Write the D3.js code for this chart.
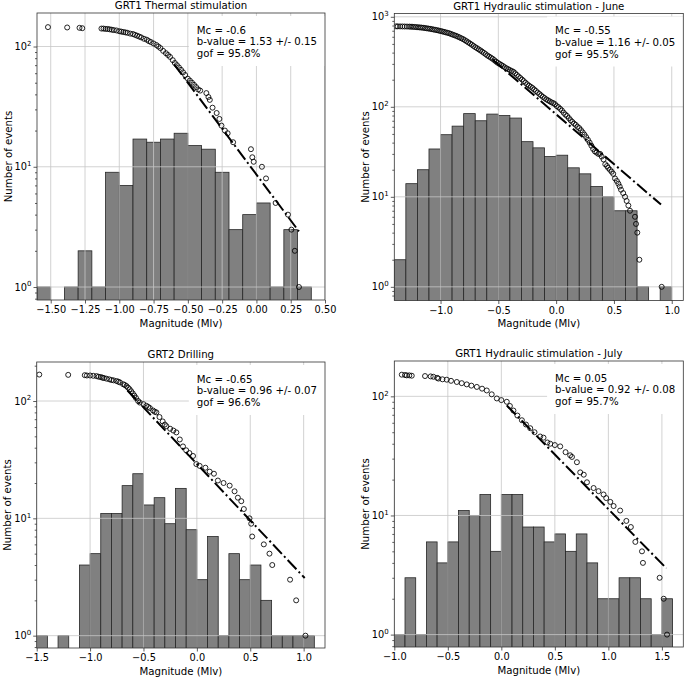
<!DOCTYPE html>
<html>
<head>
<meta charset="utf-8">
<script src="https://cdn.jsdelivr.net/npm/d3@7"></script>
<style>
  body { margin: 0; background: #fff; }
  text { font-family: "DejaVu Sans", sans-serif; fill: #000; }
</style>
</head>
<body>
<svg id="fig" width="685" height="678"></svg>
<script>
// ---- data ----
var titles = ["GRT1 Thermal stimulation", "GRT1 Hydraulic stimulation - June",
              "GRT2 Drilling", "GRT1 Hydraulic stimulation - July"];

var notes = [
  ["Mc = -0.6", "b-value = 1.53 +/- 0.15", "gof = 95.8%"],
  ["Mc = -0.55", "b-value = 1.16 +/- 0.05", "gof = 95.5%"],
  ["Mc = -0.65", "b-value = 0.96 +/- 0.07", "gof = 96.6%"],
  ["Mc = 0.05", "b-value = 0.92 +/- 0.08", "gof = 95.7%"]
];

// histogram: first bin edge (bin width 0.1) and counts per bin
var binStart = [-1.6, -1.4, -1.5, -1.0];
var counts1 = [1, 0, 1, 2, 1, 9, 7, 17, 16, 17, 19, 15, 14, 9, 3, 4, 5, 1, 3, 1];
var counts2 = [2, 14, 20, 34, 49, 61, 84, 70, 83, 80, 75, 41, 35, 28, 29, 21, 18, 13, 10, 7, 7, 1, 0, 1];
var counts3 = [1, 0, 1, 0, 4, 5, 11, 11, 19, 24, 13, 15, 9, 18, 8, 3, 7, 1, 5, 3, 4, 2, 1, 1, 1, 1];
var counts4 = [1, 3, 1, 6, 4, 6, 11, 10, 15, 5, 15, 15, 8, 8, 6, 7, 5, 7, 4, 2, 2, 3, 3, 2, 1, 2];

// cumulative number of events (open circles): magnitude / count
var cumMag1 = [-1.52, -1.38, -1.29, -1.27, -1.13, -1.115, -1.10, -1.085, -1.07, -1.055, -1.04, -1.02, -1.0,
  -0.985, -0.97, -0.955, -0.94, -0.92, -0.90, -0.885, -0.87, -0.855, -0.84, -0.82, -0.80, -0.785, -0.77,
  -0.75, -0.73, -0.715, -0.70, -0.68, -0.66, -0.645, -0.63, -0.61, -0.595, -0.58, -0.565, -0.55, -0.535,
  -0.52, -0.50, -0.485, -0.47, -0.455, -0.44, -0.425, -0.41, -0.365, -0.35, -0.34, -0.32, -0.29, -0.27, -0.255,
  -0.23, -0.21, -0.17, -0.04, -0.03, -0.02, 0.04, 0.07, 0.14, 0.23, 0.255, 0.28, 0.31];
var cumN1 = [145, 144, 143, 142, 141, 141, 140, 140, 139, 138, 137, 136, 134,
  133, 132, 131, 130, 128, 127, 125, 123, 121, 119, 116, 114, 111, 109,
  106, 103, 100, 97, 92, 88, 85, 82, 77, 73, 70, 67, 64, 61,
  58, 54, 52, 50, 48, 46, 44, 43, 41, 38, 36, 31, 28, 25, 22,
  20, 19, 16, 14, 12, 11, 10, 8, 5, 4, 3, 2, 1];

var cumMag2 = [-1.385, -1.37, -1.35, -1.33, -1.31, -1.29, -1.27, -1.255, -1.24, -1.225, -1.21, -1.195, -1.18,
  -1.165, -1.15, -1.135, -1.12, -1.105, -1.09, -1.075, -1.06, -1.045, -1.03, -1.015, -1.0, -0.985, -0.97,
  -0.955, -0.94, -0.925, -0.91, -0.895, -0.88, -0.865, -0.85, -0.835, -0.82, -0.805, -0.79, -0.775, -0.76,
  -0.745, -0.73, -0.715, -0.70, -0.685, -0.67, -0.655, -0.64, -0.625, -0.61, -0.595, -0.58, -0.565, -0.55,
  -0.535, -0.52, -0.505, -0.49, -0.475, -0.46, -0.445, -0.43, -0.415, -0.40, -0.385, -0.37, -0.355, -0.34,
  -0.325, -0.31, -0.295, -0.28, -0.265, -0.25, -0.235, -0.22, -0.205, -0.19, -0.175, -0.16, -0.145, -0.13,
  -0.115, -0.10, -0.085, -0.07, -0.055, -0.04, -0.025, -0.01, 0.005, 0.02, 0.035, 0.05, 0.065, 0.08, 0.095,
  0.11, 0.125, 0.14, 0.155, 0.17, 0.185, 0.20, 0.215, 0.23, 0.245, 0.26, 0.275, 0.29, 0.305, 0.32, 0.335,
  0.35, 0.365, 0.38, 0.394, 0.41, 0.425, 0.44, 0.45, 0.465, 0.48, 0.494, 0.509, 0.525, 0.538, 0.55, 0.561,
  0.58, 0.596, 0.61, 0.625, 0.639, 0.682, 0.691, 0.702, 0.72, 0.913];
var cumN2 = [783, 783, 782, 781, 780, 779, 778, 776, 774, 771, 768, 765, 762,
  759, 755, 750, 745, 740, 735, 729, 722, 716, 710, 703, 695, 688, 680,
  672, 664, 656, 645, 634, 624, 614, 602, 590, 577, 565, 550, 535, 520,
  505, 490, 475, 460, 448, 435, 423, 410, 398, 385, 372, 362, 352, 342,
  330, 318, 308, 300, 292, 284, 275, 268, 262, 256, 250, 245, 236, 226,
  217, 209, 201, 193, 185, 178, 172, 167, 162, 156, 150, 144, 139, 134,
  129, 125, 121, 118, 115, 112, 110, 107, 102, 99, 95, 91, 86, 82, 79,
  75, 71, 68, 65, 63, 60, 58, 55, 52, 49, 46, 43, 40, 37, 34, 32,
  31, 30, 30, 28, 26, 23, 22, 21, 20, 19, 18, 16, 15, 14, 13, 12,
  11, 10, 9, 8, 7, 6, 5, 4, 2, 1];

var cumMag3 = [-1.476, -1.205, -1.05, -1.03, -1.0, -0.97, -0.94, -0.92, -0.90, -0.885, -0.87, -0.846, -0.82,
  -0.80, -0.78, -0.752, -0.735, -0.72, -0.69, -0.675, -0.659, -0.645, -0.63, -0.615, -0.60, -0.585, -0.57,
  -0.55, -0.535, -0.50, -0.472, -0.455, -0.44, -0.41, -0.395, -0.379, -0.35, -0.32, -0.30, -0.285,
  -0.25, -0.22, -0.192, -0.16, -0.13, -0.10, -0.07, -0.036, -0.005, 0.026, 0.08, 0.12, 0.16, 0.197, 0.25, 0.307,
  0.353, 0.384, 0.416, 0.44, 0.493, 0.509, 0.518, 0.627, 0.68, 0.706, 0.873, 0.93, 1.017];
var cumN3 = [168, 167, 166, 165, 165, 164, 163, 161, 160, 158, 157, 155, 153,
  151, 150, 148, 146, 144, 139, 137, 134, 130, 126, 121, 116, 111, 106,
  100, 97, 94, 91, 89, 87, 83, 81, 80, 73, 67, 63, 61,
  58, 56, 54, 47, 41, 38, 36, 34, 29, 28, 27, 25, 24, 21, 20, 19,
  17, 15, 14, 12, 10, 9, 7, 6, 5, 4, 3, 2, 1];

var cumMag4 = [-0.93, -0.90, -0.884, -0.86, -0.837, -0.713, -0.66, -0.635, -0.60, -0.588, -0.55, -0.51, -0.47,
  -0.416, -0.37, -0.323, -0.28, -0.229, -0.18, -0.136, -0.09, -0.042, 0.0, 0.051, 0.08, 0.113, 0.15, 0.192,
  0.23, 0.27, 0.31, 0.363, 0.394, 0.43, 0.457, 0.50, 0.55, 0.60, 0.643, 0.66, 0.706, 0.737, 0.77, 0.80, 0.862,
  0.908, 0.955, 0.98, 1.018, 1.049, 1.11, 1.168, 1.21, 1.252, 1.314, 1.323, 1.479, 1.517, 1.548];
var cumN4 = [152, 151, 150, 150, 149, 148, 147, 146, 143, 141, 139, 138, 135,
  132, 129, 126, 123, 120, 116, 112, 104, 96, 93, 90, 83, 76, 69, 63,
  58, 54, 50, 46, 45, 41, 40, 39, 38, 34, 32, 31, 28, 23, 22, 19, 17,
  16, 15, 14, 13, 12, 11, 9, 8, 6, 5, 4, 3, 2, 1];

// Gutenberg-Richter fit: end points [magnitude, count]
var fit1 = [[-0.6, 71], [0.31, 2.9]];
var fit2 = [[-0.55, 335], [0.907, 8.2]];
var fit3 = [[-0.65, 123], [1.01, 3.1]];
var fit4 = [[0.05, 84], [1.542, 3.6]];

// axis tick values
var xTicks1 = [-1.5, -1.25, -1.0, -0.75, -0.5, -0.25, 0.0, 0.25, 0.5];
var xTicks2 = [-1.0, -0.5, 0.0, 0.5, 1.0];
var xTicks3 = [-1.5, -1.0, -0.5, 0.0, 0.5, 1.0];
var xTicks4 = [-1.0, -0.5, 0.0, 0.5, 1.0, 1.5];

// ---- panel options ----
var panels = [
  { title: titles[0], note: notes[0], start: binStart[0], counts: counts1, mag: cumMag1, n: cumN1, fit: fit1,
    xTicks: xTicks1, xFmt: 2, xDomain: [-1.6, 0.5], yDomain: [0.78, 190], box: [37, 13, 325, 300] },
  { title: titles[1], note: notes[1], start: binStart[1], counts: counts2, mag: cumMag2, n: cumN2, fit: fit2,
    xTicks: xTicks2, xFmt: 1, xDomain: [-1.4, 1.1], yDomain: [0.705, 1088], box: [394.3, 13.5, 683.3, 300.5] },
  { title: titles[2], note: notes[2], start: binStart[2], counts: counts3, mag: cumMag3, n: cumN3, fit: fit3,
    xTicks: xTicks3, xFmt: 1, xDomain: [-1.5, 1.2], yDomain: [0.785, 215], box: [36.7, 362, 325, 648] },
  { title: titles[3], note: notes[3], start: binStart[3], counts: counts4, mag: cumMag4, n: cumN4, fit: fit4,
    xTicks: xTicks4, xFmt: 1, xDomain: [-1.0, 1.7], yDomain: [0.787, 198], box: [394.3, 361, 683.3, 647] }
];

var svg = d3.select("#fig");
var fmtMinus = function (v, k) { return d3.format("." + k + "f")(v).replace("-", "\u2212"); };

panels.forEach(function (p, idx) {
  var x0 = p.box[0], y0 = p.box[1], x1 = p.box[2], y1 = p.box[3];
  var x = d3.scaleLinear().domain(p.xDomain).range([x0, x1]);
  var y = d3.scaleLog().domain(p.yDomain).range([y1, y0]);

  var g = svg.append("g");
  g.append("clipPath").attr("id", "clip" + idx)
    .append("rect").attr("x", x0).attr("y", y0).attr("width", x1 - x0).attr("height", y1 - y0);
  var plot = g.append("g").attr("clip-path", "url(#clip" + idx + ")");

  // histogram bars
  var bins = p.counts.map(function (c, i) { return { lo: p.start + i * 0.1, hi: p.start + (i + 1) * 0.1, c: c }; })
    .filter(function (d) { return d.c > 0; });
  plot.selectAll(".bar").data(bins).enter().append("rect")
    .attr("x", function (d) { return x(d.lo); })
    .attr("width", function (d) { return x(d.hi) - x(d.lo); })
    .attr("y", function (d) { return y(d.c); })
    .attr("height", function (d) { return y1 + 3 - y(d.c); })
    .style("fill", "#808080")
    .style("stroke", "#262626")
    .style("stroke-width", 0.8);

  // grid
  var decades = [1, 10, 100, 1000].filter(function (v) { return v >= p.yDomain[0] && v <= p.yDomain[1]; });
  plot.selectAll(".hgrid").data(decades).enter().append("line")
    .attr("x1", x0).attr("x2", x1)
    .attr("y1", function (d) { return y(d); }).attr("y2", function (d) { return y(d); })
    .style("stroke", "#c6c6c6").style("stroke-width", 0.8);
  plot.selectAll(".vgrid").data(p.xTicks).enter().append("line")
    .attr("y1", y0).attr("y2", y1)
    .attr("x1", function (d) { return x(d); }).attr("x2", function (d) { return x(d); })
    .style("stroke", "#c6c6c6").style("stroke-width", 0.8);

  // fit line
  var line = d3.line().x(function (d) { return x(d[0]); }).y(function (d) { return y(d[1]); });
  plot.append("path").datum(p.fit)
    .attr("d", line)
    .style("fill", "none").style("stroke", "#000").style("stroke-width", 2)
    .style("stroke-dasharray", "12.8,3.2,2,3.2");

  // cumulative counts
  plot.selectAll(".pt").data(p.mag).enter().append("circle")
    .attr("cx", function (d) { return x(d); })
    .attr("cy", function (d, i) { return y(p.n[i]); })
    .attr("r", 2.5)
    .style("fill", "none").style("stroke", "#000").style("stroke-width", 0.85);

  // annotation box
  var noteG = g.append("g");
  var bg = noteG.append("rect").style("fill", "#fff");
  var tx = noteG.append("text").style("font-size", "10.2px");
  p.note.forEach(function (s, i) {
    tx.append("tspan").attr("x", 0).attr("y", y0 + 20.7 + i * 11.7).text(s);
  });
  var w = d3.max(tx.selectAll("tspan").nodes(), function (n) { return n.getComputedTextLength(); });
  var tLeft = x1 - 8 - w;
  tx.selectAll("tspan").attr("x", tLeft);
  bg.attr("x", tLeft - 8).attr("y", y0 + 3).attr("width", x1 - tLeft + 8).attr("height", 50);

  // spines
  g.append("rect").attr("x", x0).attr("y", y0).attr("width", x1 - x0).attr("height", y1 - y0)
    .style("fill", "none").style("stroke", "#333").style("stroke-width", 0.8);

  // x axis
  var xa = g.append("g").attr("transform", "translate(0," + y1 + ")")
    .call(d3.axisBottom(x).tickValues(p.xTicks).tickSize(3.5).tickPadding(3)
      .tickFormat(function (d) { return fmtMinus(d, p.xFmt); }));
  xa.select(".domain").remove();
  xa.selectAll("line").style("stroke", "#333").style("stroke-width", 0.8);
  xa.selectAll("text").style("font-size", "9.8px").attr("font-family", null);

  // y axis: major + minor ticks
  var minors = [];
  [0.1, 1, 10, 100, 1000].forEach(function (d) {
    for (var k = 2; k <= 9; k++) {
      var v = k * d;
      if (v >= p.yDomain[0] && v <= p.yDomain[1]) minors.push(v);
    }
  });
  var ya = g.append("g").attr("transform", "translate(" + x0 + ",0)")
    .call(d3.axisLeft(y).tickValues(decades).tickSize(3.5).tickFormat(""));
  ya.select(".domain").remove();
  var ym = g.append("g").attr("transform", "translate(" + x0 + ",0)")
    .call(d3.axisLeft(y).tickValues(minors).tickSize(2).tickFormat(""));
  ym.select(".domain").remove();
  g.selectAll(".tick line").style("stroke", "#333").style("stroke-width", 0.8);

  decades.forEach(function (d) {
    var t = g.append("text").attr("x", x0 - 5.5).attr("y", y(d) + 3.6)
      .attr("text-anchor", "end").style("font-size", "9.8px");
    t.append("tspan").text("10");
    t.append("tspan").attr("dy", -4.2).style("font-size", "7px").text(String(Math.round(Math.log10(d))));
  });

  // labels
  g.append("text").attr("x", (x0 + x1) / 2).attr("y", y0 - 3.6)
    .attr("text-anchor", "middle").style("font-size", "10.2px").text(p.title);
  g.append("text").attr("x", (x0 + x1) / 2).attr("y", y1 + 26.5)
    .attr("text-anchor", "middle").style("font-size", "10.2px").text("Magnitude (Mlv)");
  g.append("text")
    .attr("transform", "translate(" + (x0 - 25.5) + "," + ((y0 + y1) / 2) + ") rotate(-90)")
    .attr("text-anchor", "middle").style("font-size", "10.2px").text("Number of events");
});
</script>
</body>
</html>
